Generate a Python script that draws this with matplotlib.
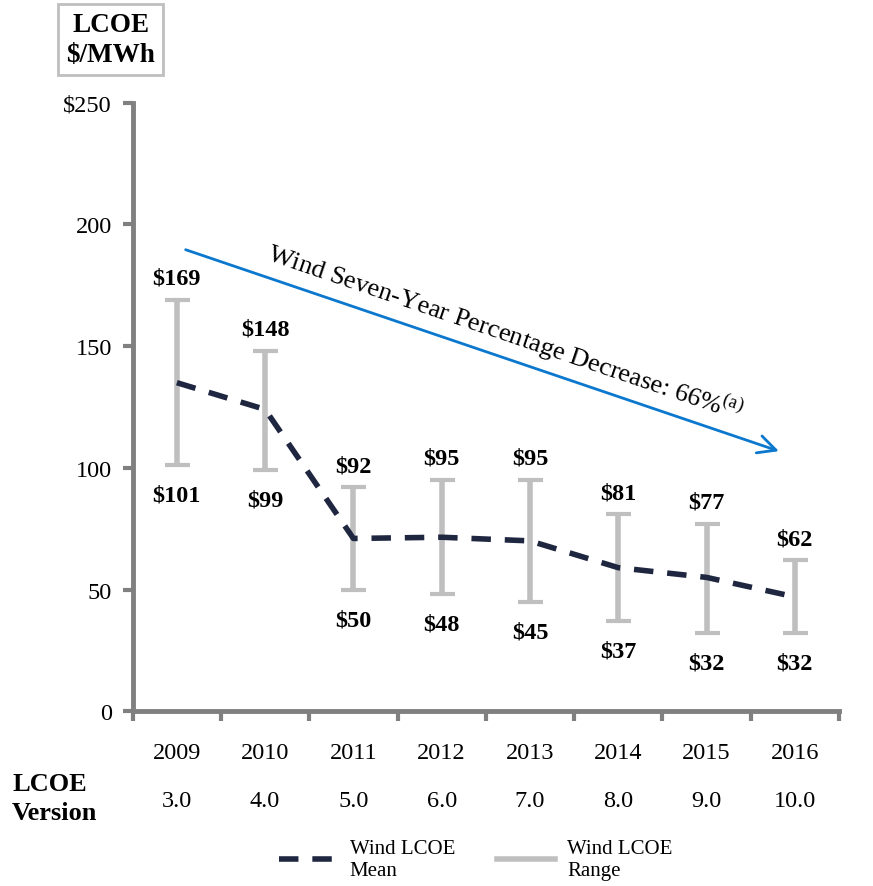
import matplotlib.pyplot as plt
from matplotlib.lines import Line2D
import numpy as np

years = ['2009', '2010', '2011', '2012', '2013', '2014', '2015', '2016']
versions = ['3.0', '4.0', '5.0', '6.0', '7.0', '8.0', '9.0', '10.0']
high = [169, 148, 92, 95, 95, 81, 77, 62]
low = [101, 99, 50, 48, 45, 37, 32, 32]
mean = [135, 124, 71, 71.5, 70, 59, 55, 47]

plt.rcParams['font.family'] = ['Liberation Serif', 'DejaVu Serif']
plt.rcParams['mathtext.fontset'] = 'custom'
plt.rcParams['mathtext.rm'] = 'Liberation Serif'

fig = plt.figure(figsize=(8.73, 8.87), dpi=100)
ax = fig.add_axes([0.152, 0.197, 0.809, 0.686])

x = np.arange(len(years))
gray = '#BFBFBF'
navy = '#1F2640'
axis_gray = '#808080'

# range bars
ax.errorbar(x, low, yerr=[np.zeros(len(x)), np.array(high) - np.array(low)],
            fmt='none', ecolor=gray, elinewidth=4, capsize=9, capthick=3, zorder=2)
# mean line
ax.plot(x, mean, color=navy, lw=4, dashes=(3.5, 2.5), zorder=3)

for xi, h, l in zip(x, high, low):
    ax.annotate(f'${h}', (xi, h), xytext=(0, 8), textcoords='offset points',
                ha='center', va='bottom', fontsize=17.5, fontweight='bold')
    ax.annotate(f'${l}', (xi, l), xytext=(0, -14), textcoords='offset points',
                ha='center', va='top', fontsize=17.5, fontweight='bold')

# trend arrow
ax.annotate('', xy=(6.85, 106.5), xytext=(0.07, 190),
            arrowprops=dict(arrowstyle='->', color='#0B78CE', lw=2,
                            mutation_scale=32))
ax.text(3.72, 156, 'Wind Seven-Year Percentage Decrease: 66%$^{\\mathrm{(a)}}$',
        rotation=-18.8, rotation_mode='anchor', ha='center', va='center',
        fontsize=19)

ax.set_xlim(-0.5, 7.5)
ax.set_ylim(0, 250)
ax.set_yticks([0, 50, 100, 150, 200, 250])
ax.set_yticklabels(['0', '50', '100', '150', '200', '$250'])
ax.set_xticks(x)
ax.set_xticklabels(years)
ax.set_xticks(np.arange(-0.5, 8, 1), minor=True)
ax.tick_params(axis='x', which='major', length=0, pad=22, labelsize=17.5)
ax.tick_params(axis='x', which='minor', length=7, width=3, color=axis_gray)
ax.tick_params(axis='y', length=7, width=3, color=axis_gray, labelsize=17.5, pad=8)

for s in ['top', 'right']:
    ax.spines[s].set_visible(False)
for s in ['left', 'bottom']:
    ax.spines[s].set_color(axis_gray)
    ax.spines[s].set_linewidth(3.5)

# version row
for xi, v in zip(x, versions):
    ax.text(xi, -36.5, v, ha='center', va='center', fontsize=17.5,
            transform=ax.transData, clip_on=False)
fig.text(0.014, 0.099, 'LCOE\nVersion', ha='left', va='center',
         fontsize=19, fontweight='bold', linespacing=1.3)

# unit box
fig.text(0.127, 0.954, 'LCOE\n$/MWh', ha='center', va='center', fontsize=19.5,
         fontweight='bold', linespacing=1.25,
         bbox=dict(boxstyle='square,pad=0.3', fc='white', ec='#BFBFBF', lw=2))

handles = [Line2D([0], [0], color=navy, lw=4, dashes=(3.5, 2.5)),
           Line2D([0], [0], color=gray, lw=4)]
fig.legend(handles, ['Wind LCOE\nMean', 'Wind LCOE\nRange'], ncol=2,
           loc='lower center', bbox_to_anchor=(0.545, -0.014), frameon=False,
           fontsize=15, handlelength=2.8, columnspacing=2.0, handletextpad=0.6)

fig.savefig('out.png', dpi=100)
